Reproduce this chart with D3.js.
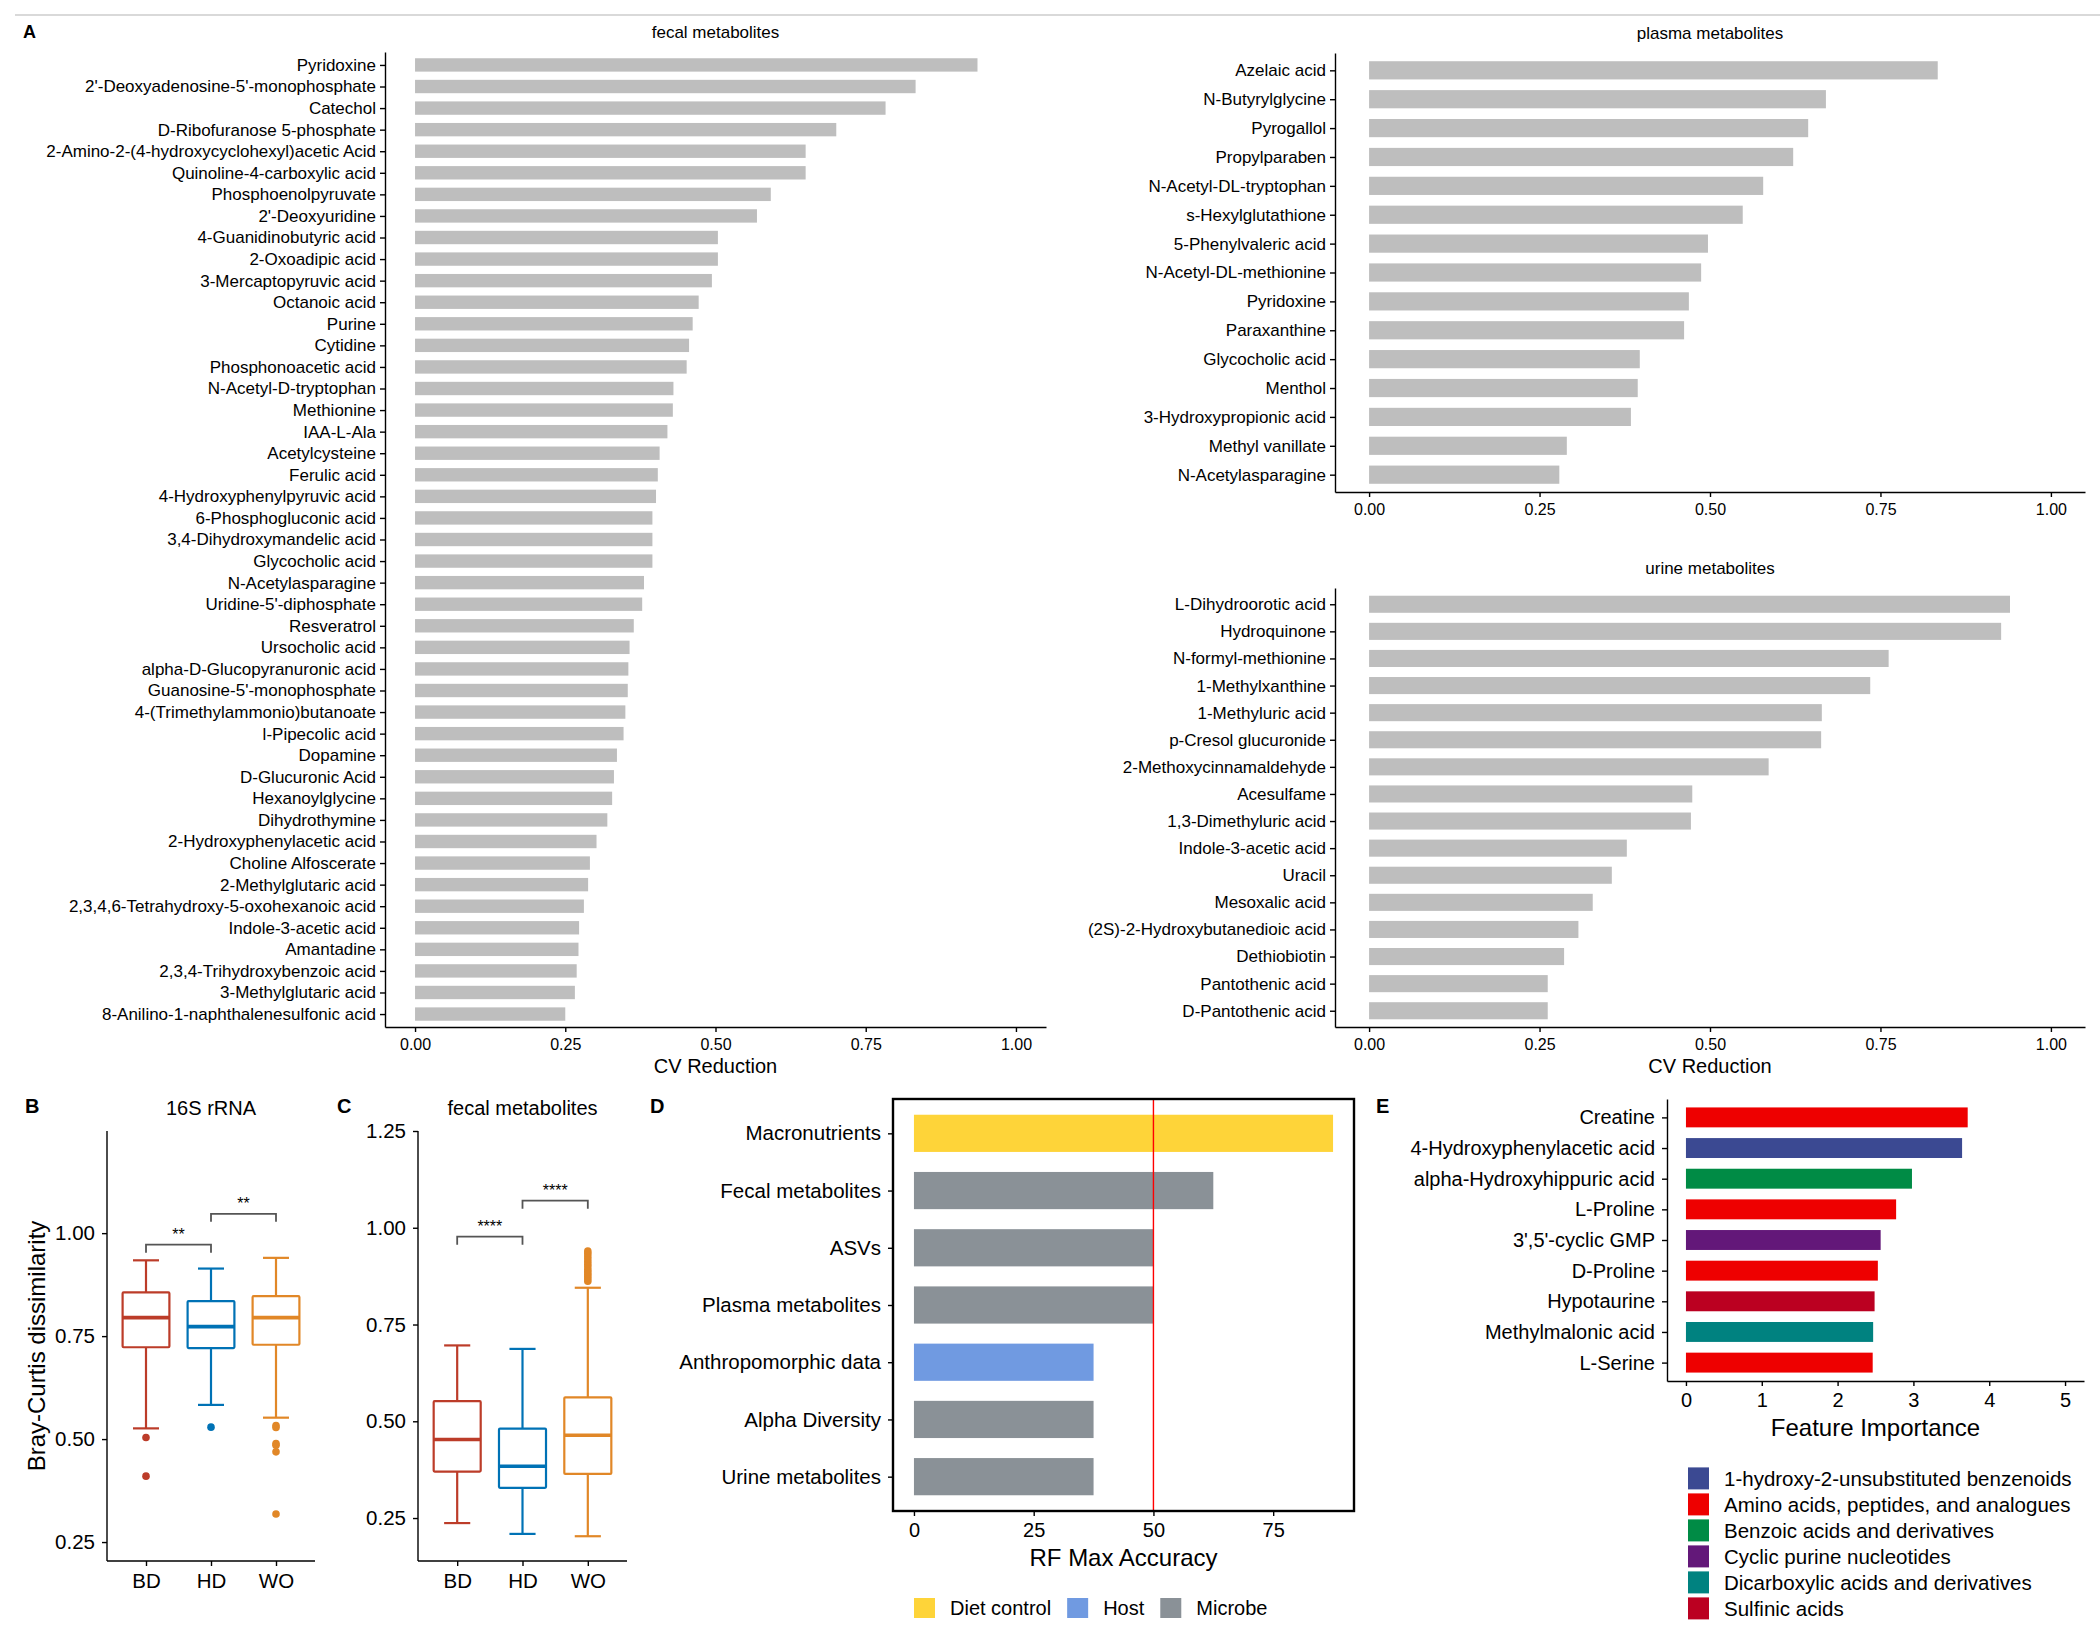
<!DOCTYPE html>
<html><head><meta charset="utf-8">
<script src="https://cdn.jsdelivr.net/npm/d3@7"></script>
<style>body{margin:0;background:#fff} text{font-family:"Liberation Sans",Arial,Helvetica,sans-serif}</style>
</head><body><svg id="c" width="2100" height="1634" xmlns="http://www.w3.org/2000/svg"></svg>
<script>
// ---------------- DATA ----------------
const fecalNames = ["Pyridoxine","2'-Deoxyadenosine-5'-monophosphate","Catechol","D-Ribofuranose 5-phosphate","2-Amino-2-(4-hydroxycyclohexyl)acetic Acid","Quinoline-4-carboxylic acid","Phosphoenolpyruvate","2'-Deoxyuridine","4-Guanidinobutyric acid","2-Oxoadipic acid","3-Mercaptopyruvic acid","Octanoic acid","Purine","Cytidine","Phosphonoacetic acid","N-Acetyl-D-tryptophan","Methionine","IAA-L-Ala","Acetylcysteine","Ferulic acid","4-Hydroxyphenylpyruvic acid","6-Phosphogluconic acid","3,4-Dihydroxymandelic acid","Glycocholic acid","N-Acetylasparagine","Uridine-5'-diphosphate","Resveratrol","Ursocholic acid","alpha-D-Glucopyranuronic acid","Guanosine-5'-monophosphate","4-(Trimethylammonio)butanoate","l-Pipecolic acid","Dopamine","D-Glucuronic Acid","Hexanoylglycine","Dihydrothymine","2-Hydroxyphenylacetic acid","Choline Alfoscerate","2-Methylglutaric acid","2,3,4,6-Tetrahydroxy-5-oxohexanoic acid","Indole-3-acetic acid","Amantadine","2,3,4-Trihydroxybenzoic acid","3-Methylglutaric acid","8-Anilino-1-naphthalenesulfonic acid"];
const fecalValues = [0.936,0.833,0.783,0.701,0.650,0.650,0.592,0.569,0.504,0.504,0.494,0.472,0.462,0.456,0.452,0.430,0.429,0.420,0.407,0.404,0.401,0.395,0.395,0.395,0.381,0.378,0.364,0.357,0.355,0.354,0.350,0.347,0.336,0.331,0.328,0.320,0.302,0.291,0.288,0.281,0.273,0.272,0.269,0.266,0.250];

const plasmaNames = ["Azelaic acid","N-Butyrylglycine","Pyrogallol","Propylparaben","N-Acetyl-DL-tryptophan","s-Hexylglutathione","5-Phenylvaleric acid","N-Acetyl-DL-methionine","Pyridoxine","Paraxanthine","Glycocholic acid","Menthol","3-Hydroxypropionic acid","Methyl vanillate","N-Acetylasparagine"];
const plasmaValues = [0.834,0.670,0.644,0.622,0.578,0.548,0.497,0.487,0.469,0.462,0.397,0.394,0.384,0.290,0.279];

const urineNames = ["L-Dihydroorotic acid","Hydroquinone","N-formyl-methionine","1-Methylxanthine","1-Methyluric acid","p-Cresol glucuronide","2-Methoxycinnamaldehyde","Acesulfame","1,3-Dimethyluric acid","Indole-3-acetic acid","Uracil","Mesoxalic acid","(2S)-2-Hydroxybutanedioic acid","Dethiobiotin","Pantothenic acid","D-Pantothenic acid"];
const urineValues = [0.940,0.927,0.762,0.735,0.664,0.663,0.586,0.474,0.472,0.378,0.356,0.328,0.307,0.286,0.262,0.262];

const cvTicks = [0,0.25,0.5,0.75,1.0];

const boxGroups = ["BD","HD","WO"];
const boxColors = ["#BC3C29","#0072B5","#E18727"];
// [lower whisker, Q1, median, Q3, upper whisker]
const rrnaStats = [[0.526,0.723,0.795,0.856,0.934],[0.583,0.721,0.773,0.835,0.914],[0.552,0.729,0.795,0.847,0.940]];
const rrnaOutliers = [[0.504,0.410],[0.529],[0.533,0.528,0.489,0.485,0.469,0.318]];
const rrnaBrackets = [{from:"BD",to:"HD",y:0.972,label:"**"},{from:"HD",to:"WO",y:1.047,label:"**"}];
const rrnaTicks = [0.25,0.50,0.75,1.00];

const fecalBoxStats = [[0.237,0.370,0.453,0.552,0.696],[0.209,0.328,0.384,0.481,0.687],[0.203,0.364,0.464,0.562,0.845]];
const fecalBoxOutliers = [[],[],[0.862,0.868,0.874,0.880,0.886,0.892,0.899,0.906,0.913,0.920,0.927,0.934,0.940]];
const fecalBrackets = [{from:"BD",to:"HD",y:0.977,label:"****"},{from:"HD",to:"WO",y:1.070,label:"****"}];
const fecalBoxTicks = [0.25,0.50,0.75,1.00,1.25];

const rfNames = ["Macronutrients","Fecal metabolites","ASVs","Plasma metabolites","Anthropomorphic data","Alpha Diversity","Urine metabolites"];
const rfValues = [87.5,62.5,50,50,37.5,37.5,37.5];
const rfGroups = ["Diet control","Microbe","Microbe","Microbe","Host","Microbe","Microbe"];
const rfGroupNames = ["Diet control","Host","Microbe"];
const rfGroupColors = ["#FED439","#709AE1","#8A9197"];
const rfTicks = [0,25,50,75];
const rfThreshold = 50;

const fiNames = ["Creatine","4-Hydroxyphenylacetic acid","alpha-Hydroxyhippuric acid","L-Proline","3',5'-cyclic GMP","D-Proline","Hypotaurine","Methylmalonic acid","L-Serine"];
const fiValues = [3.716,3.642,2.981,2.772,2.568,2.531,2.488,2.469,2.463];
const fiClass = ["Amino acids, peptides, and analogues","1-hydroxy-2-unsubstituted benzenoids","Benzoic acids and derivatives","Amino acids, peptides, and analogues","Cyclic purine nucleotides","Amino acids, peptides, and analogues","Sulfinic acids","Dicarboxylic acids and derivatives","Amino acids, peptides, and analogues"];
const fiClassNames = ["1-hydroxy-2-unsubstituted benzenoids","Amino acids, peptides, and analogues","Benzoic acids and derivatives","Cyclic purine nucleotides","Dicarboxylic acids and derivatives","Sulfinic acids"];
const fiClassColors = ["#3B4992","#EE0000","#008B45","#631879","#008280","#BB0021"];
const fiTicks = [0,1,2,3,4,5];

// ---------------- DRAW ----------------
const svg = d3.select("#c");
const INK = "#000";
const AXW = 1.4;

svg.append("line").attr("x1",15).attr("x2",2100).attr("y1",15).attr("y2",15)
  .attr("stroke","#cccccc").attr("stroke-width",1.5);

function panelLabel(t,x,y,size){
  svg.append("text").attr("x",x).attr("y",y).attr("dy","0.35em").attr("font-size",size)
    .attr("font-weight","bold").attr("fill",INK).text(t);
}
function txt(t,x,y,size,anchor){
  return svg.append("text").attr("x",x).attr("y",y).attr("dy","0.35em").attr("font-size",size)
    .attr("text-anchor",anchor||"middle").attr("fill",INK).text(t);
}
function styleAxis(sel,fs,keepDomain){
  sel.selectAll("path.domain").attr("stroke",keepDomain?INK:"none").attr("stroke-width",AXW);
  sel.selectAll(".tick line").attr("stroke",INK).attr("stroke-width",AXW);
  sel.selectAll(".tick text").attr("font-size",fs).attr("fill",INK)
    .attr("font-family",'"Liberation Sans",Arial,Helvetica,sans-serif');
}

function hbar(o){
  const g = svg.append("g");
  const x = d3.scaleLinear().domain(o.xDomain).range(o.xRange);
  const y = d3.scalePoint().domain(o.names).range(o.yRange).padding(0.6);
  const bh = y.step()*o.barFrac;
  g.selectAll("rect.bar").data(o.names).join("rect").attr("class","bar")
    .attr("x",x(0)).attr("y",d=>y(d)-bh/2)
    .attr("width",(d,i)=>x(o.values[i])-x(0)).attr("height",bh)
    .attr("fill",(d,i)=>o.fill(i));
  if(o.vline!==undefined){
    g.append("line").attr("x1",x(o.vline)).attr("x2",x(o.vline)).attr("y1",o.yRange[0]).attr("y2",o.yRange[1])
      .attr("stroke","#FF0000").attr("stroke-width",1.4);
  }
  const ya = g.append("g").attr("transform",`translate(${o.xRange[0]},0)`)
    .call(d3.axisLeft(y).tickSize(5).tickSizeOuter(0).tickPadding(o.ypad));
  styleAxis(ya,o.labelSize,!o.frame);
  const xa = g.append("g").attr("transform",`translate(0,${o.yRange[1]})`)
    .call(d3.axisBottom(x).tickValues(o.ticks).tickFormat(o.fmt).tickSize(5).tickSizeOuter(0).tickPadding(o.xpad));
  styleAxis(xa,o.tickSize,!o.frame);
  if(o.frame){
    g.append("rect").attr("x",o.xRange[0]).attr("y",o.yRange[0])
      .attr("width",o.xRange[1]-o.xRange[0]).attr("height",o.yRange[1]-o.yRange[0])
      .attr("fill","none").attr("stroke",INK).attr("stroke-width",2.4);
  }
  if(o.title) txt(o.title,(o.xRange[0]+o.xRange[1])/2,o.titleY,o.titleSize);
  if(o.xTitle) txt(o.xTitle,(o.xRange[0]+o.xRange[1])/2,o.xTitleY,o.xTitleSize);
}

const fmt2 = d3.format(".2f");
const greyFill = ()=>"#BEBEBE";

hbar({names:fecalNames,values:fecalValues,xDomain:[-0.05,1.05],xRange:[385,1046],yRange:[52,1027],
  barFrac:0.62,fill:greyFill,ticks:cvTicks,fmt:fmt2,labelSize:17,tickSize:16,ypad:4,xpad:7,
  title:"fecal metabolites",titleY:32,titleSize:17,xTitle:"CV Reduction",xTitleY:1066,xTitleSize:20});
hbar({names:plasmaNames,values:plasmaValues,xDomain:[-0.05,1.05],xRange:[1335,2085],yRange:[53,492],
  barFrac:0.63,fill:greyFill,ticks:cvTicks,fmt:fmt2,labelSize:17,tickSize:16,ypad:4,xpad:7,
  title:"plasma metabolites",titleY:33,titleSize:17});
hbar({names:urineNames,values:urineValues,xDomain:[-0.05,1.05],xRange:[1335,2085],yRange:[588,1027],
  barFrac:0.63,fill:greyFill,ticks:cvTicks,fmt:fmt2,labelSize:17,tickSize:16,ypad:4,xpad:7,
  title:"urine metabolites",titleY:568,titleSize:17,xTitle:"CV Reduction",xTitleY:1066,xTitleSize:20});

panelLabel("A",23,32,18);

// ---- boxplots ----
function boxPanel(o){
  const g = svg.append("g");
  const x = d3.scalePoint().domain(boxGroups).range(o.xRange).padding(0.6);
  const y = d3.scaleLinear().domain(o.yDomain).range([o.bottom,o.top]);
  const bw = x.step()*0.72, cw = x.step()*0.4;
  boxGroups.forEach((gn,i)=>{
    const [wl,q1,md,q3,wt] = o.stats[i];
    const cx = x(gn), col = boxColors[i];
    const gg = g.append("g").attr("stroke",col).attr("stroke-width",2.2).attr("fill","none");
    gg.append("line").attr("x1",cx).attr("x2",cx).attr("y1",y(wt)).attr("y2",y(q3));
    gg.append("line").attr("x1",cx).attr("x2",cx).attr("y1",y(q1)).attr("y2",y(wl));
    gg.append("line").attr("x1",cx-cw/2).attr("x2",cx+cw/2).attr("y1",y(wt)).attr("y2",y(wt));
    gg.append("line").attr("x1",cx-cw/2).attr("x2",cx+cw/2).attr("y1",y(wl)).attr("y2",y(wl));
    gg.append("rect").attr("x",cx-bw/2).attr("y",y(q3)).attr("width",bw).attr("height",y(q1)-y(q3))
      .attr("fill","#fff").attr("rx",1);
    gg.append("line").attr("x1",cx-bw/2).attr("x2",cx+bw/2).attr("y1",y(md)).attr("y2",y(md)).attr("stroke-width",3.6);
    g.selectAll(null).data(o.outliers[i]).join("circle")
      .attr("cx",cx).attr("cy",d=>y(d)).attr("r",3.8).attr("fill",col);
  });
  o.brackets.forEach(b=>{
    const x1=x(b.from), x2=x(b.to), yy=y(b.y);
    g.append("path").attr("d",`M${x1},${yy+8}V${yy}H${x2}V${yy+8}`)
      .attr("fill","none").attr("stroke","#555").attr("stroke-width",1.8);
    g.append("text").attr("x",(x1+x2)/2).attr("y",yy-5).attr("text-anchor","middle")
      .attr("font-size",16).attr("fill",INK).text(b.label);
  });
  const ya = g.append("g").attr("transform",`translate(${o.xRange[0]},0)`)
    .call(d3.axisLeft(y).tickValues(o.ticks).tickFormat(fmt2).tickSize(5).tickSizeOuter(0).tickPadding(7));
  ya.select("path.domain").attr("d",`M0,${o.top}V${o.bottom}`);
  styleAxis(ya,20.5,true);
  const xa = g.append("g").attr("transform",`translate(0,${o.bottom})`)
    .call(d3.axisBottom(x).tickSize(5).tickSizeOuter(0).tickPadding(7));
  xa.select("path.domain").attr("d",`M${o.xRange[0]},0H${o.xRange[1]}`);
  styleAxis(xa,20.5,true);
  txt(o.title,(o.xRange[0]+o.xRange[1])/2,1108,20);
}

boxPanel({xRange:[107,315],yDomain:[0.204,1.248],top:1131,bottom:1561,stats:rrnaStats,outliers:rrnaOutliers,
  brackets:rrnaBrackets,ticks:rrnaTicks,title:"16S rRNA"});
boxPanel({xRange:[418,627],yDomain:[0.139,1.25],top:1131,bottom:1561,stats:fecalBoxStats,outliers:fecalBoxOutliers,
  brackets:fecalBrackets,ticks:fecalBoxTicks,title:"fecal metabolites"});
svg.append("text").attr("transform","translate(37,1346) rotate(-90)").attr("dy","0.35em")
  .attr("text-anchor","middle").attr("font-size",24).attr("fill",INK).text("Bray-Curtis dissimilarity");
panelLabel("B",25,1106,20);
panelLabel("C",337,1106,20);

// ---- D ----
hbar({names:rfNames,values:rfValues,xDomain:[-4.375,91.875],xRange:[893,1354],yRange:[1099,1511],
  barFrac:0.65,fill:i=>rfGroupColors[rfGroupNames.indexOf(rfGroups[i])],ticks:rfTicks,fmt:d3.format("d"),
  labelSize:20.5,tickSize:20,ypad:7,xpad:7,frame:true,vline:rfThreshold,
  xTitle:"RF Max Accuracy",xTitleY:1558,xTitleSize:24});
panelLabel("D",650,1106,20);
{
  let lx = 914;
  rfGroupNames.forEach((n,i)=>{
    svg.append("rect").attr("x",lx).attr("y",1598).attr("width",21).attr("height",20).attr("fill",rfGroupColors[i]);
    const t = txt(n,lx+36,1608,20,"start");
    lx += 36 + t.node().getComputedTextLength() + 16;
  });
}

// ---- E ----
hbar({names:fiNames,values:fiValues,xDomain:[-0.25,5.25],xRange:[1667,2084],yRange:[1099,1381],
  barFrac:0.65,fill:i=>fiClassColors[fiClassNames.indexOf(fiClass[i])],ticks:fiTicks,fmt:d3.format("d"),
  labelSize:20,tickSize:20,ypad:7,xpad:7,
  xTitle:"Feature Importance",xTitleY:1428,xTitleSize:24});
panelLabel("E",1376,1106,20);
fiClassNames.forEach((n,i)=>{
  const cy = 1478.4 + i*26;
  svg.append("rect").attr("x",1688).attr("y",cy-11).attr("width",21).attr("height",22).attr("fill",fiClassColors[i]);
  txt(n,1724,cy,20.5,"start");
});
</script></body></html>
